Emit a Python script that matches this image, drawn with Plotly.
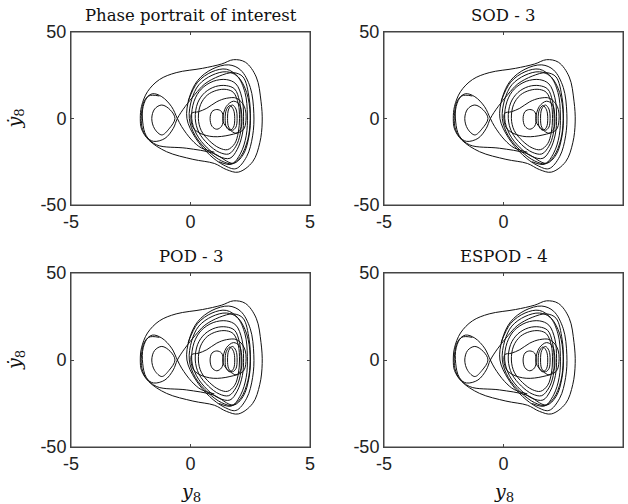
import plotly.graph_objects as go

# ---------------- data ----------------
panel_titles = ["Phase portrait of interest", "SOD - 3", "POD - 3", "ESPOD - 4"]
x_ticks = [-5, 0, 5]
y_ticks = [-50, 0, 50]
x_tick_labels = ["-5", "0", "5"]
y_tick_labels = ["-50", "0", "50"]

# outer envelope + outermost right loop
outer_x = [-2.1, -2.05, -1.8, -1.3, -0.6, 0.5, 1.3, 1.8, 2.3, 2.75, 2.95, 3.0, 2.9, 2.6, 2.0, 1.5, 1.0, 0.1, -1.0, -1.75, -2.05, -2.1]
outer_y = [0, 7, 15.5, 22.5, 26.5, 29, 31.5, 34, 32.5, 24, 10, -2, -14, -25, -31, -29.5, -26, -23.6, -19.2, -12.4, -6, 0]

# nested loops around the right well
ringA_x = [-0.15, -0.05, 0.3, 0.9, 1.6, 2.1, 2.5, 2.65, 2.6, 2.35, 1.9, 1.4, 0.8, 0.2, -0.15]
ringA_y = [0, 12, 22, 28.5, 31, 28, 18, 3, -10, -22, -29, -27, -21, -11, 0]
ringB_x = [-0.05, 0.05, 0.35, 0.9, 1.5, 1.95, 2.28, 2.38, 2.33, 2.1, 1.75, 1.3, 0.75, 0.2, -0.05]
ringB_y = [0, 11, 19.5, 25, 27, 24.5, 15, 2, -10, -20, -26, -24.5, -19, -10, 0]
ringC_x = [0.05, 0.15, 0.45, 0.95, 1.5, 1.9, 2.15, 2.22, 2.17, 1.95, 1.65, 1.2, 0.7, 0.25, 0.05]
ringC_y = [0, 10, 17, 21.5, 22.5, 20, 12, 1, -9, -18, -23, -22, -17, -9, 0]
ringD_x = [0.2, 0.3, 0.6, 1.05, 1.5, 1.85, 2.05, 2.12, 2.08, 1.9, 1.6, 1.2, 0.75, 0.35, 0.2]
ringD_y = [0, 9, 15, 18.5, 19, 17, 10, 0, -9, -16, -20.5, -19.5, -15, -8, 0]
ringE_x = [0.33, 0.42, 0.7, 1.1, 1.5, 1.8, 2.0, 2.05, 2.0, 1.85, 1.55, 1.2, 0.8, 0.45, 0.33]
ringE_y = [0, 8, 13.5, 16.3, 16.8, 15, 8.5, 0, -8, -14.5, -18, -17, -13, -7, 0]

# excursion through the left well, crossing near (-0.55, 0)
left1_x = [1.0, 0.45, 0.05, -0.37, -0.55, -0.79, -1.2, -1.6, -1.92, -2.05, -2.03, -1.85, -1.55, -1.07, -0.72, -0.55, -0.23, 0.19, 0.6, 1.2, 1.8, 2.2, 2.45, 2.5, 2.4, 2.1, 1.7, 1.2]
left1_y = [-19.5, -17, -12.4, -4.7, 0, 6.8, 12.6, 14.3, 10.5, 3, -5, -10.5, -13.2, -11.5, -5.7, 0, 6.8, 14, 20, 24.5, 26.5, 24, 12, 0, -12, -22, -26.5, -25]
# small teardrop inside the left well
tear_x = [-0.65, -0.85, -1.2, -1.5, -1.62, -1.5, -1.2, -0.9, -0.65]
tear_y = [0, 5, 7.8, 5.5, 0, -6, -9.5, -6, 0]
# second left-lobe pass joining the lower bundle
left3_x = [-1.3, -1.75, -1.98, -2.0, -1.85, -1.41, -0.16, 0.95, 1.79, 2.2, 2.45, 2.5, 2.35, 2.0, 1.5, 0.9, 0.3, -0.1]
left3_y = [13, 13, 7, -2, -10, -15.3, -17.2, -20.1, -25.9, -21, -10, 2, 15, 24, 28.5, 27, 21, 10]

# inner elongated loop and the small loops near the right well centre
inner_x = [0.05, 0.33, 0.68, 1.1, 1.51, 1.93, 2.25, 2.32, 2.2, 1.65, 0.95, 0.4, 0.1, 0.05]
inner_y = [3, 3.9, 5.9, 9.7, 11.7, 11.7, 7, -1, -6.6, -9.5, -10.5, -8.5, -5, 3]
s1_x = [0.82, 0.9, 1.1, 1.3, 1.37, 1.3, 1.1, 0.9, 0.82]
s1_y = [0, 4, 5.2, 4, 0, -4.5, -6.2, -4.5, 0]
s2_x = [1.45, 1.5, 1.65, 1.8, 1.85, 1.8, 1.65, 1.5, 1.45]
s2_y = [0, 5, 7.5, 5, 0, -5, -6.8, -5, 0]
s3_x = [1.55, 1.6, 1.75, 1.9, 1.95, 1.9, 1.75, 1.6, 1.55]
s3_y = [0, 5.5, 7.8, 5.5, 0, -5, -6.8, -5, 0]
s4_x = [1.35, 1.5, 1.8, 2.05, 2.15, 2.1, 1.9, 1.6, 1.4, 1.35]
s4_y = [0, 7, 10, 8, 0, -6, -8.5, -6, -3, 0]

curves = [
    (outer_x, outer_y), (ringA_x, ringA_y), (ringB_x, ringB_y), (ringC_x, ringC_y),
    (ringD_x, ringD_y), (ringE_x, ringE_y), (left1_x, left1_y), (tear_x, tear_y),
    (left3_x, left3_y), (inner_x, inner_y), (s1_x, s1_y), (s2_x, s2_y),
    (s3_x, s3_y), (s4_x, s4_y),
]

# ---------------- figure ----------------
W, H = 628, 504
fig = go.Figure()

col_px = [(71, 310), (384, 623)]
row_px = [(32, 205), (273, 447)]

serif = "DejaVu Serif, Liberation Serif, serif"
sans = "Liberation Sans, Arial, sans-serif"
axis_col = "#444444"

annotations = []
shapes = []
for p in range(4):
    r, c = divmod(p, 2)
    idx = "" if p == 0 else str(p + 1)
    xa, ya = "x" + idx, "y" + idx
    for cx, cy in curves:
        fig.add_trace(go.Scatter(x=cx, y=cy, mode="lines", xaxis=xa, yaxis=ya,
                                 line=dict(color="#111111", width=1, shape="spline", smoothing=1.0),
                                 hoverinfo="skip", showlegend=False))
    x0, x1 = col_px[c]
    y0, y1 = row_px[r]
    common = dict(showline=True, mirror="ticks", linecolor=axis_col, linewidth=1, automargin=False,
                  ticks="inside", ticklen=3, tickcolor=axis_col, showgrid=False, zeroline=False,
                  tickfont=dict(family=sans, size=18, color="#222222"))
    fig.layout["xaxis" + idx] = dict(domain=[x0 / W, x1 / W], range=[-5, 5], tickvals=x_ticks,
                                     ticktext=x_tick_labels, anchor=ya, **common)
    fig.layout["yaxis" + idx] = dict(domain=[1 - y1 / H, 1 - y0 / H], range=[-50, 50], tickvals=y_ticks,
                                     ticktext=y_tick_labels, anchor=xa, ticksuffix="\u2009", **common)
    # axes box (frame) drawn in each subplot's domain coordinates
    xd, yd = xa + " domain", ya + " domain"
    shapes.append(dict(type="rect", xref=xd, yref=yd, x0=0, x1=1, y0=0, y1=1,
                       line=dict(color=axis_col, width=1), layer="above"))
    annotations.append(dict(text=panel_titles[p], x=(x0 + x1) / 2 / W, y=1 - (y0 - 17) / H,
                            xref="paper", yref="paper", showarrow=False, xanchor="center", yanchor="middle",
                            font=dict(family=serif, size=16.5, color="#111111")))
    if c == 0:
        annotations.append(dict(text="<i>\u1e8f</i><sub>8</sub>", x=15 / W, y=1 - (y0 + y1) / 2 / H,
                                xref="paper", yref="paper", showarrow=False, textangle=-90,
                                xanchor="center", yanchor="middle",
                                font=dict(family=serif, size=19, color="#111111")))
    if r == 1:
        annotations.append(dict(text="<i>y</i><sub>8</sub>", x=(x0 + x1) / 2 / W, y=1 - 492 / H,
                                xref="paper", yref="paper", showarrow=False,
                                xanchor="center", yanchor="middle",
                                font=dict(family=serif, size=19, color="#111111")))

fig.update_layout(template="none", width=W, height=H, margin=dict(l=0, r=0, t=0, b=0, pad=0),
                  autosize=False, paper_bgcolor="white", plot_bgcolor="white",
                  annotations=annotations, shapes=shapes)
fig.write_html("out.html", config={"responsive": False})
